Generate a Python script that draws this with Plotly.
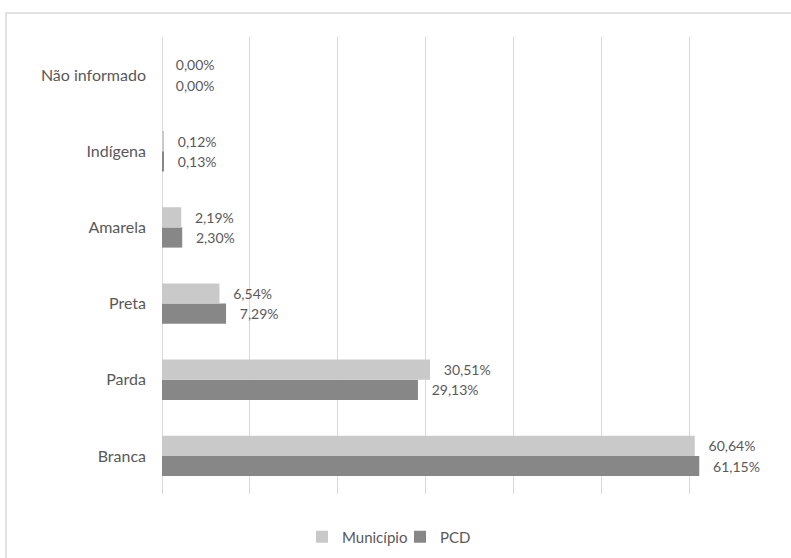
import plotly.graph_objects as go

categories = ["Branca", "Parda", "Preta", "Amarela", "Indígena", "Não informado"]
municipio = [60.64, 30.51, 6.54, 2.19, 0.12, 0.00]
pcd = [61.15, 29.13, 7.29, 2.30, 0.13, 0.00]

FONT = "Lato, 'Open Sans', sans-serif"
TXT = "#595959"
pad = "\u00a0\u00a0\u00a0"

fig = go.Figure()
fig.add_trace(go.Bar(
    y=categories, x=pcd, name="PCD", orientation="h",
    marker=dict(color="#878787", line=dict(width=0)),
    texttemplate=pad + "%{x:.2f}%", textposition="outside",
    textfont=dict(size=14, color=TXT, family=FONT),
    constraintext="none", cliponaxis=False, legend="legend2",
))
fig.add_trace(go.Bar(
    y=categories, x=municipio, name="Município", orientation="h",
    marker=dict(color="#C9C9C9", line=dict(width=0)),
    texttemplate=pad + "%{x:.2f}%", textposition="outside",
    textfont=dict(size=14, color=TXT, family=FONT),
    constraintext="none", cliponaxis=False, legend="legend",
))

W, H = 791, 558
L, R, T, B = 162, 14, 37, 64
pw, ph = W - L - R, H - T - B

def px(x):
    return (x - L) / pw

def py(y):
    return (H - B - y) / ph

leg_common = dict(orientation="h", xanchor="left", y=py(537), yanchor="middle",
                  font=dict(size=15, color=TXT, family=FONT), itemwidth=30,
                  bgcolor="rgba(0,0,0,0)")

fig.update_layout(
    width=W, height=H,
    margin=dict(l=L, r=R, t=T, b=B, autoexpand=False),
    paper_bgcolor="white", plot_bgcolor="white",
    separators=",.",
    barmode="group", bargap=0.47, bargroupgap=0,
    font=dict(family=FONT, color=TXT, size=14),
    xaxis=dict(range=[0, 70], dtick=10, showticklabels=False,
               showgrid=True, gridcolor="#D9D9D9", gridwidth=1,
               zeroline=True, zerolinecolor="#D9D9D9", zerolinewidth=1,
               showline=False, ticks="", fixedrange=True),
    yaxis=dict(categoryorder="array", categoryarray=categories,
               showgrid=False, zeroline=False, showline=False, ticks="",
               ticklabelstandoff=15,
               tickfont=dict(size=16, color=TXT, family=FONT)),
    showlegend=True,
    legend=dict(x=px(302), **leg_common),
    legend2=dict(x=px(400), **leg_common),
    shapes=[dict(type="rect", xref="paper", yref="paper",
                 x0=px(6), x1=px(W + 20), y0=py(H + 20), y1=py(13),
                 line=dict(color="#D9D9D9", width=1.5), layer="below")],
)

fig.write_html("out.html")
